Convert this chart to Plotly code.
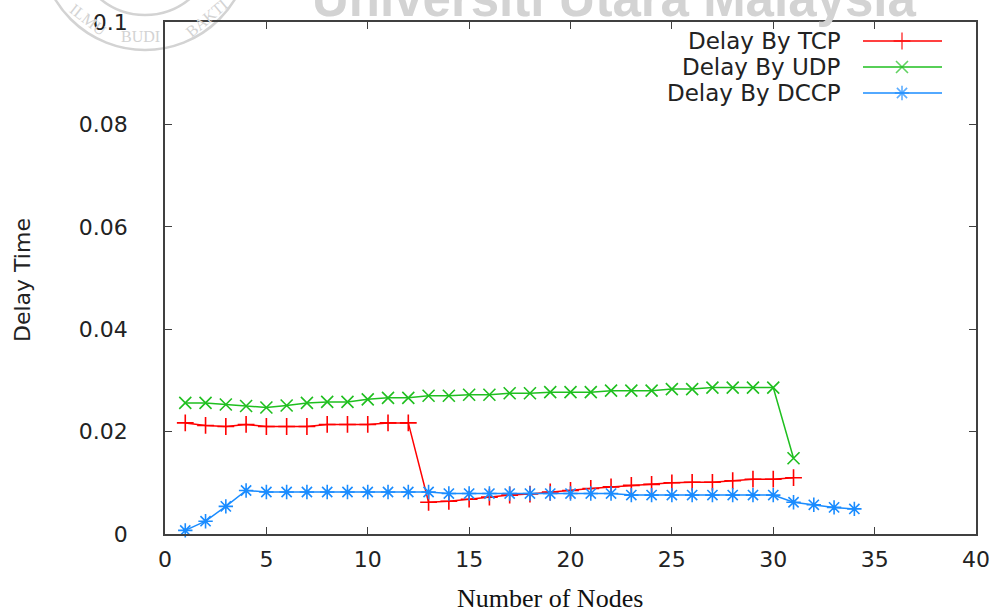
import plotly.graph_objects as go

# Delay measurements per number of nodes
nodes_tcp = list(range(1, 32))
delay_tcp = [0.0217, 0.0212, 0.0210, 0.0214, 0.0210, 0.0210, 0.0210, 0.0214, 0.0214, 0.0214,
             0.0217, 0.0217, 0.0062, 0.0064, 0.0068, 0.0072, 0.0076, 0.0078, 0.0082, 0.0085,
             0.0089, 0.0092, 0.0095, 0.0097, 0.0100, 0.0101, 0.0101, 0.0104, 0.0107, 0.0107,
             0.0110]

nodes_udp = list(range(1, 32))
delay_udp = [0.0256, 0.0256, 0.0253, 0.0250, 0.0247, 0.0251, 0.0256, 0.0258, 0.0258, 0.0263,
             0.0266, 0.0266, 0.0270, 0.0270, 0.0272, 0.0272, 0.0275, 0.0275, 0.0277, 0.0277,
             0.0277, 0.0280, 0.0280, 0.0280, 0.0283, 0.0283, 0.0286, 0.0286, 0.0286, 0.0286,
             0.0148]

nodes_dccp = list(range(1, 35))
delay_dccp = [0.0007, 0.0025, 0.0054, 0.0085, 0.0082, 0.0082, 0.0082, 0.0082, 0.0082, 0.0082,
              0.0082, 0.0082, 0.0082, 0.0079, 0.0079, 0.0079, 0.0079, 0.0079, 0.0079, 0.0079,
              0.0079, 0.0079, 0.0076, 0.0076, 0.0076, 0.0076, 0.0076, 0.0076, 0.0076, 0.0076,
              0.0062, 0.0057, 0.0052, 0.0049]

series_names = ["Delay By TCP", "Delay By UDP", "Delay By DCCP"]
series_colors = ["#ff0000", "#1fbf1f", "#1a8cff"]
series_symbols = ["cross-thin-open", "x-thin-open", "asterisk-open"]

x_ticks = [0, 5, 10, 15, 20, 25, 30, 35, 40]
y_ticks = [0, 0.02, 0.04, 0.06, 0.08, 0.1]
y_tick_text = ["0", "0.02", "0.04", "0.06", "0.08", "0.1"]

W, H = 995, 612
L, R, T, B = 165, 19, 22, 78
PW, PH = W - L - R, H - T - B


def px(x):
    return (x - L) / PW


def py(y):
    return (H - B - y) / PH


SANS = "DejaVu Sans"
TEXT = "#222222"
FRAME = "#404040"

fig = go.Figure()

data = [(nodes_tcp, delay_tcp), (nodes_udp, delay_udp), (nodes_dccp, delay_dccp)]
for (xs, ys), name, color, sym in zip(data, series_names, series_colors, series_symbols):
    fig.add_trace(go.Scatter(
        x=xs, y=ys, name=name, mode="lines+markers",
        line=dict(color=color, width=1.5),
        marker=dict(symbol=sym, size=12, color=color, line=dict(color=color, width=1.6)),
        showlegend=False, cliponaxis=False,
    ))

# Key: label on the left, line sample with a point in the middle on the right
key_rows = [41, 67, 93]
for name, color, sym, yrow in zip(series_names, series_colors, series_symbols, key_rows):
    fig.add_trace(go.Scatter(
        x=[px(863), px(902), px(942)], y=[py(yrow)] * 3,
        xaxis="x2", yaxis="y2", mode="lines+markers",
        line=dict(color=color, width=1.5),
        marker=dict(symbol=sym, size=[0, 12, 0], color=color,
                    line=dict(color=color, width=1.6)),
        showlegend=False, hoverinfo="skip", cliponaxis=False,
    ))
    fig.add_annotation(x=px(843), y=py(yrow), xref="paper", yref="paper",
                       text=name, showarrow=False, xanchor="right", yanchor="middle",
                       font=dict(family=SANS, size=23, color=TEXT))

axis_common = dict(showline=True, linecolor=FRAME, linewidth=1.5, mirror="ticks",
                   ticks="inside", ticklen=7, tickwidth=1.2, tickcolor=FRAME,
                   showgrid=False, zeroline=False, automargin=False,
                   tickfont=dict(family=SANS, size=22, color=TEXT))

fig.update_layout(
    width=W, height=H,
    margin=dict(l=L, r=R, t=T, b=B, pad=0, autoexpand=False),
    paper_bgcolor="white", plot_bgcolor="white",
    showlegend=False,
    xaxis=dict(range=[0, 40], tickvals=x_ticks, ticklabelstandoff=5, **axis_common),
    yaxis=dict(range=[0, 0.1], tickvals=y_ticks, ticktext=y_tick_text,
               ticklabelstandoff=31, **axis_common),
    xaxis2=dict(overlaying="x", range=[0, 1], visible=False),
    yaxis2=dict(overlaying="y", range=[0, 1], visible=False),
)

# Axis titles
fig.add_annotation(x=px(22), y=py(280), xref="paper", yref="paper", text="Delay Time",
                   textangle=-90, showarrow=False, xanchor="center", yanchor="middle",
                   font=dict(family=SANS, size=22, color=TEXT))
fig.add_annotation(x=px(550), y=py(598), xref="paper", yref="paper", text="Number of Nodes",
                   showarrow=False, xanchor="center", yanchor="middle",
                   font=dict(family="Liberation Serif", size=26, color="#111111"))

# Faint university watermark along the top edge
WM = "#d3d3d3"
fig.add_annotation(x=px(310), y=py(-2), xref="paper", yref="paper",
                   text="<b>Universiti Utara Malaysia</b>", showarrow=False,
                   xanchor="left", yanchor="middle",
                   font=dict(family="Liberation Sans", size=51, color=WM))
cx, cy = 145, -55
for r in (105, 70):
    fig.add_shape(type="circle", xref="paper", yref="paper",
                  x0=px(cx - r), x1=px(cx + r), y0=py(cy + r), y1=py(cy - r),
                  line=dict(color=WM, width=2.5), layer="below")
for word, wx, wy, ang in [("ILMU", 88, 19, 38), ("BUDI", 140, 36, 0), ("BAKTI", 206, 18, -40)]:
    fig.add_annotation(x=px(wx), y=py(wy), xref="paper", yref="paper", text=word,
                       textangle=ang, showarrow=False, xanchor="center", yanchor="middle",
                       font=dict(family="Liberation Serif", size=16, color=WM))

fig.write_html("out.html")
